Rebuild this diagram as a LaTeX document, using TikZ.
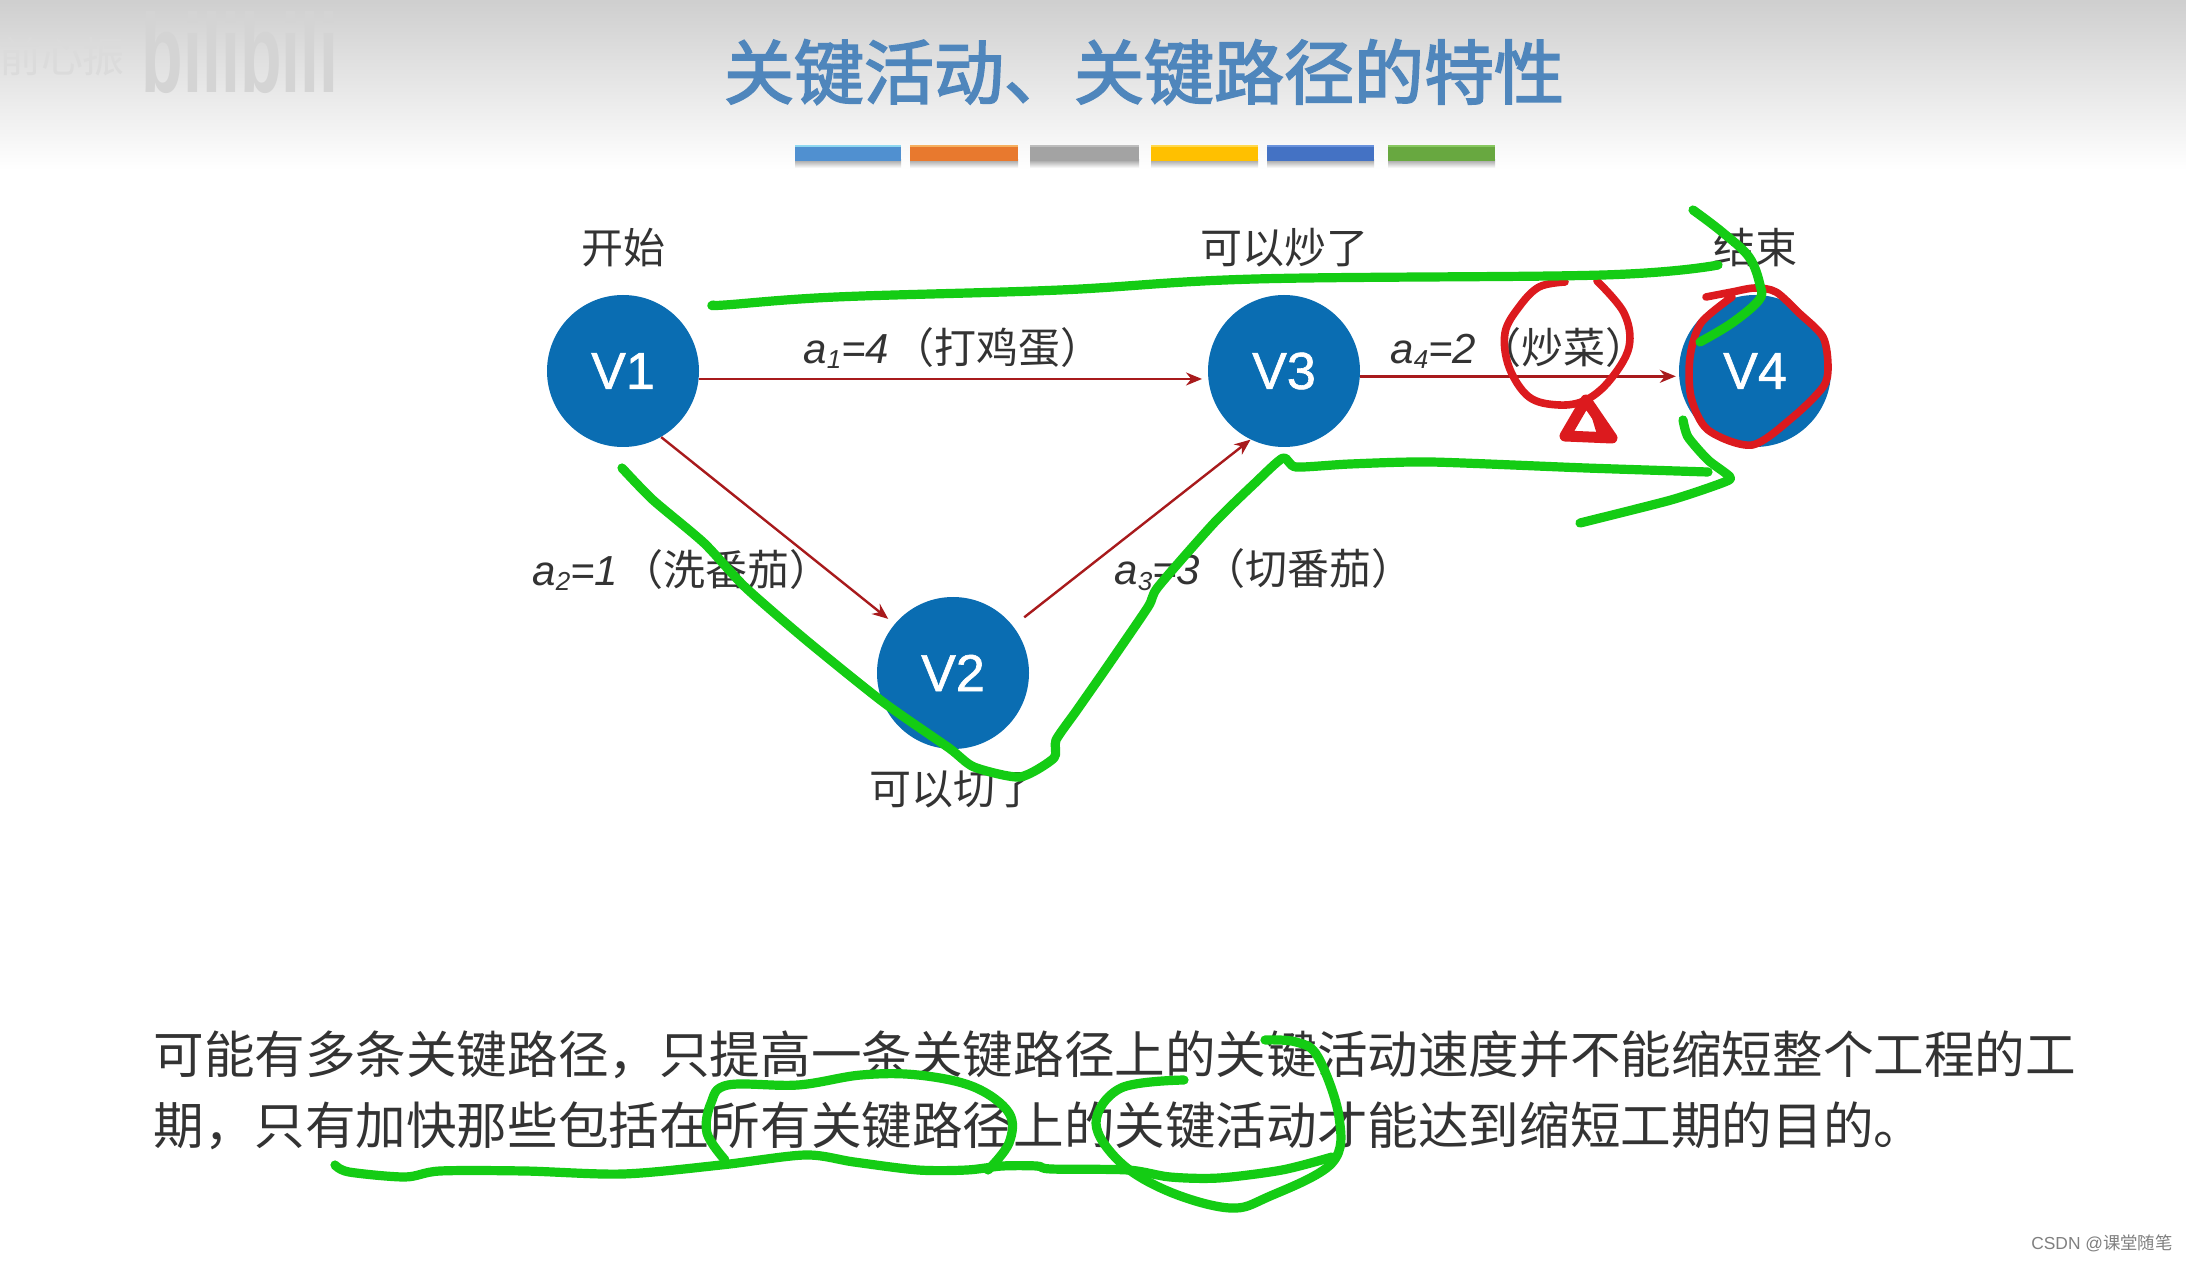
\documentclass[tikz,border=0pt]{standalone}
\usepackage{fontspec}
\setmainfont{Liberation Sans}
\newfontfamily\cjk{Noto Sans CJK SC}
\newfontfamily\cjktitle[FakeBold=2.5]{Noto Sans CJK SC}
\newfontfamily\vfont[FakeBold=1.2]{Liberation Sans}
\usetikzlibrary{arrows.meta,calc}
\definecolor{vblue}{HTML}{0A6DB2}
\definecolor{titleblue}{HTML}{4F86BC}
\definecolor{edgered}{HTML}{A81A1C}
\definecolor{inkgreen}{HTML}{14CC14}
\definecolor{inkred}{HTML}{DC1A1E}
\definecolor{txt}{HTML}{333333}
\newcommand{\alab}[2]{{\itshape a{\raisebox{-0.14em}{\fontsize{13}{13}\selectfont #1}}=#2}\hspace{1.5pt}}
\tikzset{
  x=0.5pt,y=-0.5pt,
  vertex/.style={circle,fill=vblue,text=white,minimum size=76pt,inner sep=0pt,font=\fontsize{26}{26}\selectfont\vfont},
  note/.style={text=txt,inner sep=0pt,font=\fontsize{21}{21}\selectfont\cjk},
  elabel/.style={text=txt,inner sep=0pt,anchor=west,font=\fontsize{21}{21}\selectfont},
  para/.style={text=txt,inner sep=0pt,anchor=west,font=\fontsize{25.3}{25.3}\selectfont\cjk},
  edge/.style={draw=edgered,line width=1.2pt,-{Stealth[length=8pt,width=6.5pt]}},
  gink/.style={draw=inkgreen,line width=4.6pt,line cap=round,line join=round},
  rink/.style={draw=inkred,line width=3.8pt,line cap=round,line join=round}
}
\begin{document}
\begin{tikzpicture}
\useasboundingbox (0,0) rectangle (2186,1262);
\fill[white] (0,0) rectangle (2186,1262);
\shade[top color=black!19,bottom color=white] (0,0) rectangle (2186,170);
% watermark
\node[text=black!17,inner sep=0pt,font=\fontsize{40}{40}\selectfont\bfseries,xscale=0.85,yscale=1.4] (mark) at (240,52) {bilibili};
\node[text=black!14,inner sep=0pt,font=\fontsize{21}{21}\selectfont\cjk] (mark2) at (62,56) {前心振};
% title
\node[text=titleblue,inner sep=0pt,font=\fontsize{35}{35}\selectfont\cjktitle] (title) at (1144,72) {关键活动、关键路径的特性};
% colour bars
\foreach \xa/\xb/\c/\t in {795/901/5090D0/8FD8F0,910/1018/E8792E/F6B060,1030/1139/A3A3A3/BDBDBD,1151/1258/FFC000/FFD84D,1267/1374/4472C4/6A92DC,1388/1495/68A840/88C860}{
  \definecolor{barc}{HTML}{\c}\definecolor{bart}{HTML}{\t}
  \shade[top color=black!35,bottom color=white] (\xa,160) rectangle (\xb,168);
  \fill[barc] (\xa,146) rectangle (\xb,161);
  \fill[bart] (\xa,145) rectangle (\xb,147);
}
% vertices
\node[vertex] (v1) at (623,371) {V1};
\node[vertex] (v2) at (953,673) {V2};
\node[vertex] (v3) at (1284,371) {V3};
\node[vertex] (v4) at (1755,371) {V4};
% edges
\draw[edge,shorten >=3pt] (v1.-6) -- (v3.186);
\draw[edge,shorten >=4pt] (v1.-60) -- (v2.140);
\draw[edge,shorten <=7pt] (v2.38) -- (v3.-116);
\draw[edge,shorten >=1.5pt] (v3.-4) -- (v4.184);
% labels
\node[note] (l1) at (623,248) {开始};
\node[note] (l3) at (1284,248) {可以炒了};
\node[note] (l4) at (1755,248) {结束};
\node[note] (l2) at (953,789) {可以切了};
\node[elabel] (e1) at (803,348) {\alab{1}{4}{\cjk（打鸡蛋）}};
\node[elabel] (e4) at (1390,348) {\alab{4}{2}{\cjk（炒菜）}};
\node[elabel] (e2) at (532,570) {\alab{2}{1}{\cjk（洗番茄）}};
\node[elabel] (e3) at (1114,570) {\alab{3}{3}{\cjk（切番茄）}};
% paragraph
\node[para] (p1) at (153,1055) {可能有多条关键路径，只提高一条关键路径上的关键活动速度并不能缩短整个工程的工};
\node[para] (p2) at (153,1126) {期，只有加快那些包括在所有关键路径上的关键活动才能达到缩短工期的目的。};
% red ink
\draw[rink] plot[smooth,tension=0.6] coordinates {(1565,282) (1539,287) (1519,307) (1505,333) (1509,367) (1529,397) (1559,405) (1586,400) (1610,380) (1629,347) (1624,313) (1597,281)};
\draw[rink,fill=white,line width=5.5pt] (1586,400) -- (1565,436) -- (1612,438) -- cycle;
\fill[inkred] (1586,398) -- (1596,418) -- (1612,438) -- (1598,438) -- cycle;
\draw[rink] plot[smooth,tension=0.5] coordinates {(1706,297) (1732,292) (1755,288) (1776,292) (1799,313) (1823,337) (1828,367) (1823,387) (1793,417) (1752,445) (1708,430) (1691,397) (1690,357) (1701,323) (1732,297)};
% green ink
\draw[gink] plot[smooth,tension=0.6] coordinates {(714,305) (725,305) (836,297) (1060,290) (1255,279) (1603,275) (1718,265)};
\draw[gink] plot[smooth,tension=0.6] coordinates {(1693,210) (1722,232) (1749,257) (1760,285) (1759,300) (1732,323) (1700,342)};
\draw[gink] plot[smooth,tension=0.4] coordinates {(622,468) (653,500) (704,543) (745,587) (806,640) (883,702) (949,748) (974,767) (1020,777) (1054,758) (1056,740) (1077,710) (1107,667) (1148,607) (1158,587) (1214,523) (1255,483) (1283,458) (1296,467) (1350,464) (1431,462) (1586,468) (1708,472)};
\draw[gink] plot[smooth,tension=0.4] coordinates {(1683,420) (1688,437) (1708,460) (1730,477) (1722,483) (1671,500) (1580,523)};
\draw[gink] plot[smooth,tension=0.5] coordinates {(335,1165) (349,1172) (405,1177) (440,1171) (525,1171) (623,1174) (721,1165) (805,1155) (854,1162) (918,1170) (967,1170) (1002,1166) (1037,1166) (1051,1169) (1128,1170) (1170,1177) (1219,1178) (1282,1170) (1332,1157)};
\draw[gink] plot[smooth,tension=0.6] coordinates {(725,1160) (707,1133) (711,1103) (728,1085) (798,1085) (861,1075) (918,1075) (974,1087) (1009,1113) (1009,1143) (988,1170)};
\draw[gink] plot[smooth,tension=0.6] coordinates {(1184,1080) (1121,1088) (1096,1123) (1121,1163) (1170,1192) (1230,1208) (1268,1197) (1332,1163) (1339,1117) (1318,1057) (1296,1042) (1265,1040)};
% credit
\node[text=black!50,inner sep=0pt,font=\fontsize{8.7}{8.7}\selectfont] (credit) at (2102,1243) {CSDN @{\cjk 课堂随笔}};
\end{tikzpicture}
\end{document}
